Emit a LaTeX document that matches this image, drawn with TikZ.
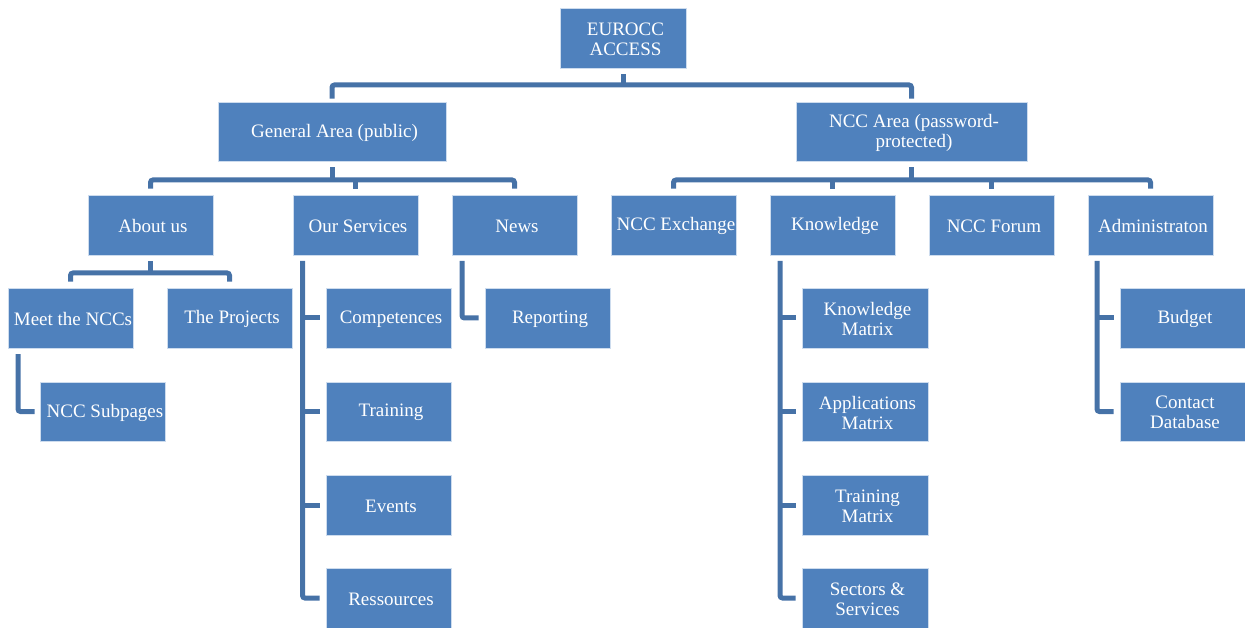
\documentclass[tikz,border=0pt]{standalone}
\usepackage{fontspec}
\setmainfont{Liberation Serif}
\definecolor{boxfill}{RGB}{79,129,189}
\definecolor{boxline}{RGB}{205,220,238}
\definecolor{linec}{RGB}{70,114,167}
\tikzset{
  lbl/.style={text=white, inner sep=0pt, align=center, xshift=2.5pt, yshift=-1pt,
    font=\fontsize{19}{20}\selectfont},
  bx/.style={rectangle, fill=boxfill, draw=boxline, line width=0.8pt,
    minimum width=125pt, minimum height=60pt, inner sep=0pt,
    label={[lbl]center:#1}},
  conn/.style={draw=linec, line width=5pt, rounded corners=2.5pt},
}
\begin{document}
\begin{tikzpicture}[x=1pt,y=-1pt]
\useasboundingbox (0,0) rectangle (1245,628);
% level 0
\node[bx={EUROCC\\ACCESS}, minimum width=126pt] (eurocc) at (623,38) {};
% level 1
\node[bx={General Area (public)}, minimum width=228pt, minimum height=59pt] (gen) at (332,131.5) {};
\node[bx={NCC Area (password-\\protected)}, minimum width=231pt, minimum height=59pt] (ncc) at (911.5,131.5) {};
% level 2
\node[bx={About us}] (about) at (150.5,225) {};
\node[bx={Our Services}] (serv) at (355.5,225) {};
\node[bx={News}] (news) at (514.5,225) {};
\node[bx={NCC Exchange}] (exch) at (673.5,225) {};
\node[bx={Knowledge}] (know) at (832.5,225) {};
\node[bx={NCC Forum}] (forum) at (991.5,225) {};
\node[bx={Administraton}] (admin) at (1150.5,225) {};
% level 3
\node[bx={Meet the NCCs}] (meet) at (70.5,318) {};
\node[bx={The Projects}] (proj) at (229.5,318) {};
\node[bx={NCC Subpages}, minimum height=59pt] (subp) at (102.5,411.5) {};
\node[bx={Competences}] (comp) at (388.5,318) {};
\node[bx={Training}, minimum height=59pt] (train) at (388.5,411.5) {};
\node[bx={Events}] (events) at (388.5,505) {};
\node[bx={Ressources}] (ress) at (388.5,598) {};
\node[bx={Reporting}] (report) at (547.5,318) {};
\node[bx={Knowledge\\Matrix}, minimum width=126pt] (km) at (865,318) {};
\node[bx={Applications\\Matrix}, minimum width=126pt, minimum height=59pt] (am) at (865,411.5) {};
\node[bx={Training\\Matrix}, minimum width=126pt] (tm) at (865,505) {};
\node[bx={Sectors \&\\Services}, minimum width=126pt] (ss) at (865,598) {};
\node[bx={Budget}] (budget) at (1182.5,318) {};
\node[bx={Contact\\Database}, minimum height=59pt] (contact) at (1182.5,411.5) {};
% connectors level 0 -> 1
\coordinate (b0) at (623,85);
\draw[conn] ([yshift=-6pt]eurocc.south) -- (eurocc.south |- b0);
\draw[conn] ([yshift=3pt]gen.north) -- (gen.north |- b0) -- (ncc.north |- b0) -- ([yshift=3pt]ncc.north);
% level 1 -> 2 (general)
\coordinate (b1) at (0,180);
\draw[conn] ([yshift=-6pt]gen.south) -- (gen.south |- b1);
\draw[conn] ([yshift=6pt]about.north) -- (about.north |- b1) -- (news.north |- b1) -- ([yshift=6pt]news.north);
\draw[conn] ([yshift=6pt]serv.north) -- (serv.north |- b1);
% level 1 -> 2 (ncc)
\draw[conn] ([yshift=-6pt]ncc.south) -- (ncc.south |- b1);
\draw[conn] ([yshift=6pt]exch.north) -- (exch.north |- b1) -- (admin.north |- b1) -- ([yshift=6pt]admin.north);
\draw[conn] ([yshift=6pt]know.north) -- (know.north |- b1);
\draw[conn] ([yshift=6pt]forum.north) -- (forum.north |- b1);
% about us -> meet, projects
\coordinate (b2) at (0,273);
\draw[conn] ([yshift=-6pt]about.south) -- (about.south |- b2);
\draw[conn] ([yshift=6pt]meet.north) -- (meet.north |- b2) -- (proj.north |- b2) -- ([yshift=6pt]proj.north);
% meet -> subpages
\coordinate (vm) at (18,0);
\draw[conn] (vm |- 0,354) -- (vm |- subp.west) -- ([xshift=-5pt]subp.west);
% services -> children
\coordinate (vs) at (302.5,0);
\draw[conn] (vs |- 0,261) -- (vs |- ress.west) -- ([xshift=-6pt]ress.west);
\draw[conn] (vs |- comp.west) -- ([xshift=-6pt]comp.west);
\draw[conn] (vs |- train.west) -- ([xshift=-6pt]train.west);
\draw[conn] (vs |- events.west) -- ([xshift=-6pt]events.west);
% news -> reporting
\coordinate (vn) at (462,0);
\draw[conn] (vn |- 0,261) -- (vn |- report.west) -- ([xshift=-6pt]report.west);
% knowledge -> children
\coordinate (vk) at (780,0);
\draw[conn] (vk |- 0,261) -- (vk |- ss.west) -- ([xshift=-6pt]ss.west);
\draw[conn] (vk |- km.west) -- ([xshift=-6pt]km.west);
\draw[conn] (vk |- am.west) -- ([xshift=-6pt]am.west);
\draw[conn] (vk |- tm.west) -- ([xshift=-6pt]tm.west);
% admin -> children
\coordinate (va) at (1097,0);
\draw[conn] (va |- 0,261) -- (va |- contact.west) -- ([xshift=-6pt]contact.west);
\draw[conn] (va |- budget.west) -- ([xshift=-6pt]budget.west);
\end{tikzpicture}
\end{document}
